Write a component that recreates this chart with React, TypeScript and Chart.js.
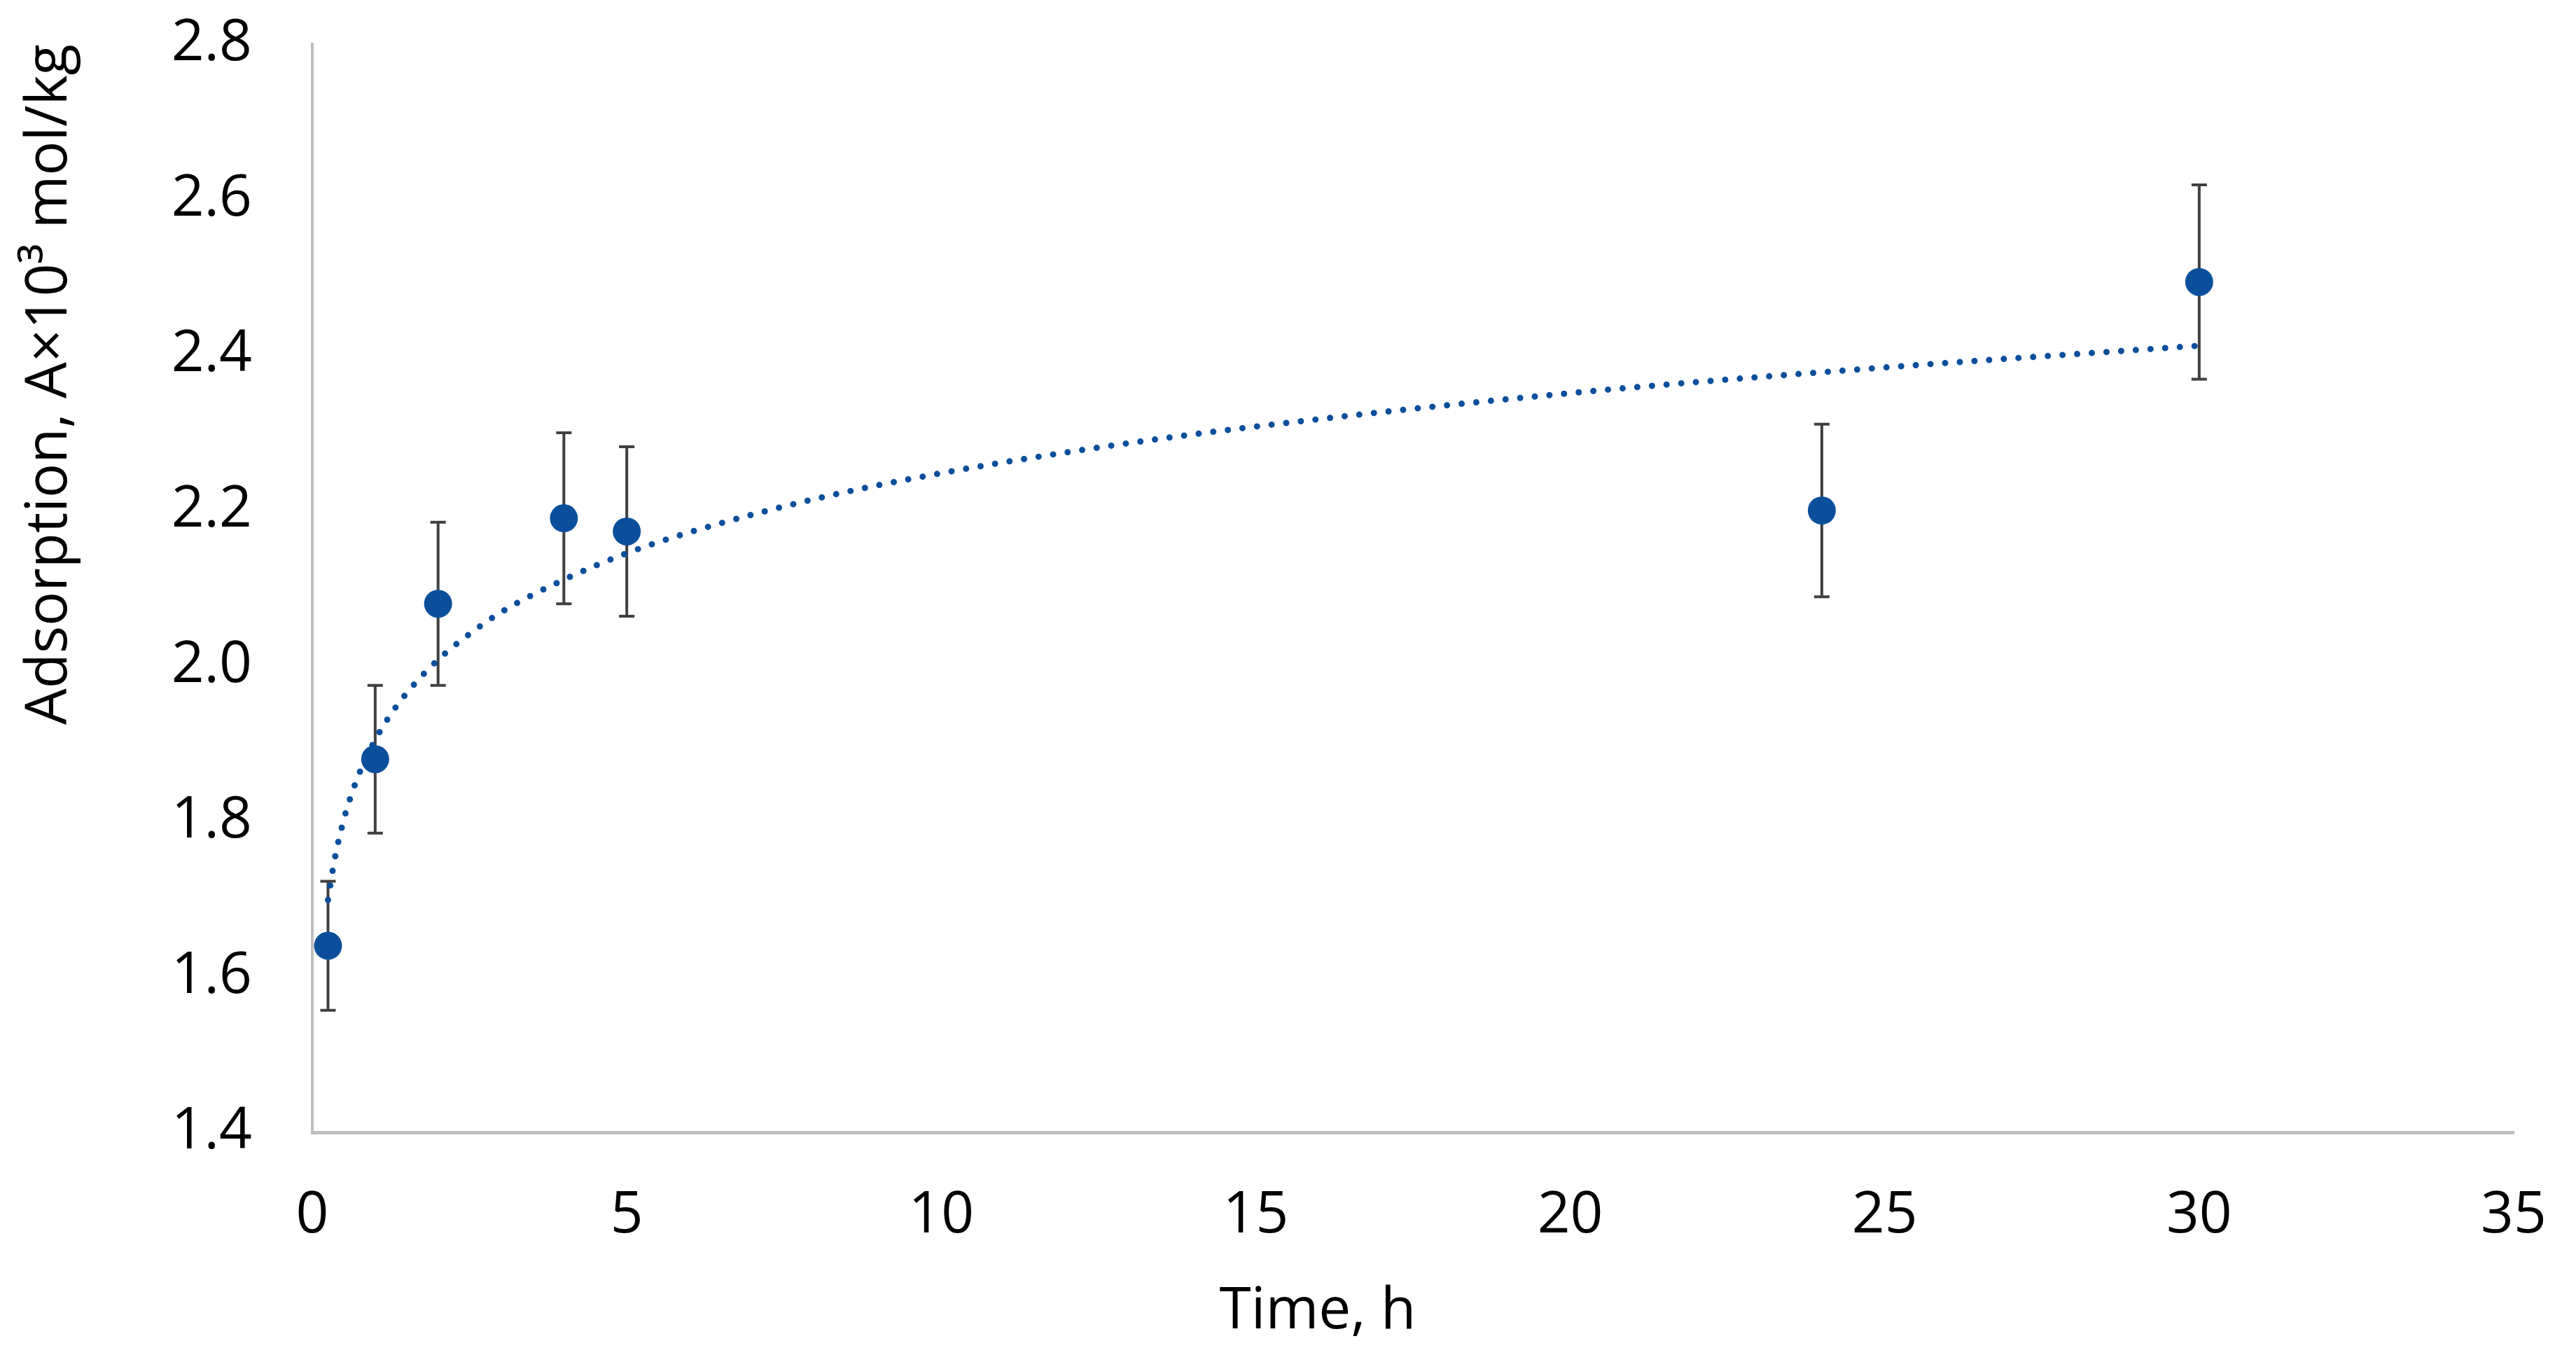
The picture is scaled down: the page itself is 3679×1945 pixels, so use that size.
import React, { useEffect, useRef } from 'react';
import { Chart, registerables } from 'chart.js';

Chart.register(...registerables);

// Measured data (time in hours, adsorption A×10³ mol/kg) with error-bar half widths
const timeH = [0.25, 1, 2, 4, 5, 24, 30];
const adsorption = [1.64, 1.88, 2.08, 2.19, 2.173, 2.2, 2.494];
const errorHalf = [0.083, 0.095, 0.105, 0.11, 0.109, 0.111, 0.125];

// Dotted trend curve
const trendTime = [0.25, 0.35, 0.5, 0.65, 0.8, 1, 1.25, 1.5, 2, 2.5, 3, 4, 5, 6, 8, 10, 12.5, 15, 20, 25, 30];
const trendAdsorption = [1.699, 1.749, 1.802, 1.841, 1.872, 1.905, 1.938, 1.965, 2.008, 2.041, 2.069, 2.111, 2.145, 2.172, 2.215, 2.248, 2.281, 2.308, 2.351, 2.384, 2.412];

// Axis settings
const xMin = 0;
const xMax = 35;
const xStep = 5;
const yMin = 1.4;
const yMax = 2.8;
const yStep = 0.2;

const xTitle = 'Time, h';
const yTitle = 'Adsorption, A×10³ mol/kg';

const BLUE = '#0B4F9C';
const FONT = '"Open Sans", "Noto Sans", sans-serif';
const FONT_SIZE = 82;

const W = 3679;
const H = 1945;

const errorBarPlugin = {
  id: 'errorBars',
  beforeDatasetsDraw(chart: any) {
    const { ctx, scales } = chart;
    const xs = scales.x;
    const ys = scales.y;
    ctx.save();
    ctx.strokeStyle = '#404040';
    ctx.lineWidth = 4;
    for (let i = 0; i < timeH.length; i++) {
      const px = xs.getPixelForValue(timeH[i]);
      const top = ys.getPixelForValue(adsorption[i] + errorHalf[i]);
      const bot = ys.getPixelForValue(adsorption[i] - errorHalf[i]);
      ctx.beginPath();
      ctx.moveTo(px, top);
      ctx.lineTo(px, bot);
      ctx.moveTo(px - 11, top);
      ctx.lineTo(px + 11, top);
      ctx.moveTo(px - 11, bot);
      ctx.lineTo(px + 11, bot);
      ctx.stroke();
    }
    ctx.restore();
  },
};

const xTitlePlugin = {
  id: 'xTitle',
  afterDraw(chart: any) {
    const { ctx, chartArea } = chart;
    ctx.save();
    ctx.font = `${FONT_SIZE}px ${FONT}`;
    ctx.fillStyle = '#000000';
    ctx.textAlign = 'center';
    ctx.textBaseline = 'middle';
    const cx = chartArea.left + (chartArea.right - chartArea.left) * 0.4567;
    ctx.fillText(xTitle, cx, chart.height - 71);
    ctx.restore();
  },
};

export default function App() {
  const canvasRef = useRef<HTMLCanvasElement | null>(null);

  useEffect(() => {
    document.body.style.margin = '0';
    document.body.style.overflow = 'hidden';
    const canvas = canvasRef.current;
    if (!canvas) return;

    const chart = new Chart(canvas, {
      type: 'scatter',
      data: {
        datasets: [
          {
            label: 'trend',
            data: trendTime.map((t, i) => ({ x: t, y: trendAdsorption[i] })),
            showLine: true,
            borderColor: BLUE,
            borderWidth: 9,
            borderDash: [0, 21],
            borderCapStyle: 'round',
            pointRadius: 0,
            tension: 0.4,
            cubicInterpolationMode: 'monotone',
            fill: false,
            order: 1,
          } as any,
          {
            label: 'data',
            data: timeH.map((t, i) => ({ x: t, y: adsorption[i] })),
            backgroundColor: BLUE,
            borderColor: BLUE,
            borderWidth: 0,
            pointRadius: 20,
            pointStyle: 'circle',
            order: 2,
          },
        ],
      },
      options: {
        animation: false,
        responsive: false,
        devicePixelRatio: 1,
        layout: { padding: { left: 0, top: 63, right: 89, bottom: 0 } },
        plugins: {
          legend: { display: false },
          tooltip: { enabled: false },
        },
        scales: {
          x: {
            type: 'linear',
            min: xMin,
            max: xMax,
            grid: {
              display: true,
              drawOnChartArea: false,
              drawTicks: true,
              tickLength: 70,
              tickColor: 'rgba(0,0,0,0)',
              color: 'rgba(0,0,0,0)',
            },
            border: { display: true, color: '#BFBFBF', width: 5 },
            ticks: {
              stepSize: xStep,
              color: '#000000',
              padding: 0,
              font: { family: FONT, size: FONT_SIZE },
            },
            afterFit(scale: any) {
              scale.height = H - 1617;
            },
          },
          y: {
            type: 'linear',
            min: yMin,
            max: yMax,
            grid: {
              display: true,
              drawOnChartArea: false,
              drawTicks: true,
              tickLength: 86,
              tickColor: 'rgba(0,0,0,0)',
              color: 'rgba(0,0,0,0)',
            },
            border: { display: true, color: '#BFBFBF', width: 4 },
            ticks: {
              stepSize: yStep,
              color: '#000000',
              padding: 0,
              font: { family: FONT, size: FONT_SIZE },
              callback: (v: any) => Number(v).toFixed(1),
            },
            title: {
              display: true,
              text: yTitle,
              align: 'end',
              color: '#000000',
              font: { family: FONT, size: FONT_SIZE },
              padding: { top: 22, bottom: 0 },
            },
            afterFit(scale: any) {
              scale.width = 446;
            },
          },
        },
      },
      plugins: [errorBarPlugin, xTitlePlugin],
    });

    return () => {
      chart.destroy();
    };
  }, []);

  return (
    <div style={{ width: W, height: H, background: '#ffffff' }}>
      <canvas
        ref={canvasRef}
        width={W}
        height={H}
        style={{ display: 'block', width: W, height: H }}
      />
    </div>
  );
}
